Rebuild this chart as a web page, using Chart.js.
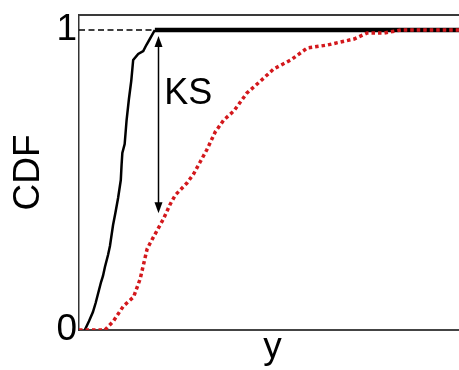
<!DOCTYPE html>
<html>
<head>
<meta charset="utf-8">
<script src="https://cdn.jsdelivr.net/npm/chart.js@4.4.1/dist/chart.umd.min.js"></script>
<style>
  html, body { margin: 0; padding: 0; overflow: hidden; background: #fff; width: 459px; height: 370px; }
  canvas { display: block; }
</style>
</head>
<body>
<canvas id="c" width="466" height="370"></canvas>
<script>
// Empirical CDF of the first sample (steep, black)
const ecdf1X = [1.5, 2.6, 3.6, 4.3, 4.9, 5.7, 6.2, 6.7, 7.5, 8.0, 8.8, 9.4, 10.1, 10.8, 11.0, 11.2, 11.8, 12.3, 12.9, 13.5, 14.0, 15.3, 16.6, 17.4, 18.3, 19.6, 100];
const ecdf1Y = [0, 0.03, 0.06, 0.09, 0.12, 0.16, 0.18, 0.21, 0.25, 0.28, 0.35, 0.39, 0.44, 0.50, 0.55, 0.59, 0.62, 0.70, 0.77, 0.83, 0.90, 0.92, 0.93, 0.95, 0.97, 1.0, 1.0];

// Empirical CDF of the second sample (gradual, red dotted)
const ecdf2X = [0, 6.7, 8.9, 11.5, 14.1, 15.8, 16.7, 17.6, 18.4, 20.1, 21.8, 23.6, 24.9, 27.9, 29.6, 31.3, 33.0, 35.2, 37.4, 40.0, 43.4, 46.9, 50.3, 54.7, 59.0, 64.2, 67.6, 71.1, 74.5, 78.8, 83.2, 88.3, 100];
const ecdf2Y = [0, 0, 0.03, 0.08, 0.11, 0.17, 0.22, 0.27, 0.29, 0.33, 0.37, 0.42, 0.45, 0.49, 0.52, 0.56, 0.60, 0.66, 0.70, 0.73, 0.79, 0.83, 0.87, 0.90, 0.94, 0.95, 0.96, 0.97, 0.99, 0.99, 1.0, 1.0, 1.0];

// Reference level y = 1 drawn as a dashed guide up to where the first CDF reaches it
const guideX = [0, 19.2];
const guideY = [1, 1];

// Tick labels on the CDF axis
const yTicks = [0, 1];

// Kolmogorov–Smirnov distance marker
const ksX = 20.5;
const ksTop = 0.98;
const ksBottom = 0.389;
const ksLabel = 'KS';
const ksLabelX = 22.0;
const ksLabelY = 0.785;

const toPoints = (xs, ys) => xs.map((v, i) => ({ x: v, y: ys[i] }));

const FONT = "'Liberation Sans', Arial, Helvetica, sans-serif";

const ksMarker = {
  id: 'ksMarker',
  afterDatasetsDraw(chart) {
    const { ctx, chartArea: a, scales: { x, y } } = chart;
    ctx.save();
    // top frame edge
    ctx.strokeStyle = '#3a3a3a';
    ctx.lineWidth = 2;
    ctx.beginPath();
    ctx.moveTo(a.left, a.top);
    ctx.lineTo(a.right, a.top);
    ctx.stroke();

    // double-headed arrow
    const px = Math.round(x.getPixelForValue(ksX)) + 0.5;
    const yTop = y.getPixelForValue(ksTop);
    const yBot = y.getPixelForValue(ksBottom);
    const headLen = 11, headHalf = 4;
    ctx.strokeStyle = '#000';
    ctx.fillStyle = '#000';
    ctx.lineWidth = 1.5;
    ctx.beginPath();
    ctx.moveTo(px, yTop + headLen - 1);
    ctx.lineTo(px, yBot - headLen + 1);
    ctx.stroke();
    ctx.beginPath();
    ctx.moveTo(px, yTop);
    ctx.lineTo(px - headHalf, yTop + headLen);
    ctx.lineTo(px + headHalf, yTop + headLen);
    ctx.closePath();
    ctx.fill();
    ctx.beginPath();
    ctx.moveTo(px, yBot);
    ctx.lineTo(px - headHalf, yBot - headLen);
    ctx.lineTo(px + headHalf, yBot - headLen);
    ctx.closePath();
    ctx.fill();

    // label
    ctx.font = `36px ${FONT}`;
    ctx.textAlign = 'left';
    ctx.textBaseline = 'middle';
    ctx.fillText(ksLabel, x.getPixelForValue(ksLabelX), y.getPixelForValue(ksLabelY));
    ctx.restore();
  }
};

new Chart(document.getElementById('c'), {
  type: 'line',
  data: {
    datasets: [
      {
        data: toPoints(ecdf2X, ecdf2Y),
        borderColor: '#d3181c',
        borderWidth: 3.5,
        borderDash: [3.5, 3],
        borderCapStyle: 'butt',
        pointRadius: 0,
        tension: 0,
        fill: false
      },
      {
        data: toPoints(ecdf1X, ecdf1Y),
        borderColor: '#000',
        borderWidth: 2.5,
        pointRadius: 0,
        tension: 0,
        fill: false,
        segment: {
          borderWidth: ctx => (ctx.p0.parsed.y >= 1 && ctx.p1.parsed.y >= 1 ? 4.5 : 2.5)
        }
      },
      {
        data: toPoints(guideX, guideY),
        borderColor: '#000',
        borderWidth: 1.3,
        borderDash: [6, 3.5],
        pointRadius: 0,
        tension: 0,
        fill: false
      }
    ]
  },
  options: {
    responsive: false,
    animation: false,
    devicePixelRatio: 1,
    layout: { padding: { top: 15, left: 0, right: 0, bottom: 0 } },
    plugins: { legend: { display: false }, tooltip: { enabled: false } },
    scales: {
      x: {
        type: 'linear',
        min: 0,
        max: 100,
        grid: { display: false, drawTicks: false },
        border: { display: true, color: '#444', width: 2 },
        ticks: { display: false },
        title: {
          display: true,
          text: 'y',
          color: '#000',
          font: { family: FONT, size: 37 },
          padding: { top: 0, bottom: 0 }
        },
        afterFit: s => { s.height = 40; }
      },
      y: {
        type: 'linear',
        min: 0,
        max: 1.05,
        grid: { display: false, drawTicks: false },
        border: { display: true, color: '#333', width: 1.5 },
        afterBuildTicks: s => { s.ticks = yTicks.map(v => ({ value: v })); },
        ticks: {
          color: '#000',
          padding: 2,
          font: { family: FONT, size: 37 },
          callback: v => String(v)
        },
        title: {
          display: true,
          text: 'CDF',
          color: '#000',
          font: { family: FONT, size: 37 },
          padding: { top: 7, bottom: 0 }
        },
        afterFit: s => { s.width = 79; s.paddingTop = 0; s.paddingBottom = 0; }
      }
    }
  },
  plugins: [ksMarker]
});
</script>
</body>
</html>
